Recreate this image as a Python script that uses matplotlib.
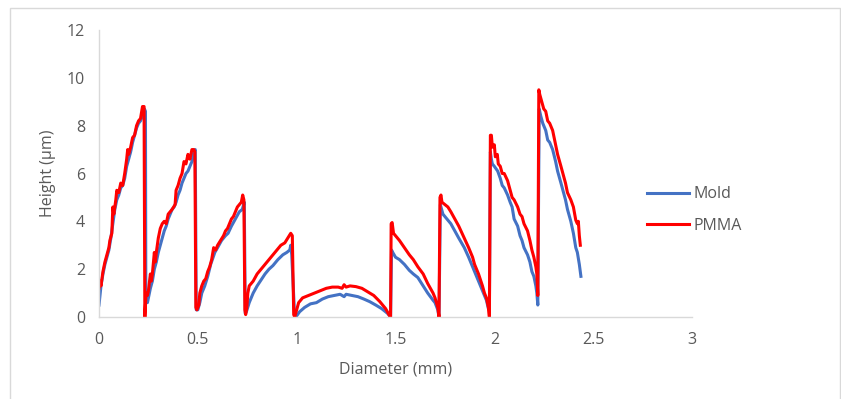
import matplotlib
matplotlib.use("Agg")
from matplotlib import pyplot as plt
from matplotlib.patches import Rectangle

plt.rcParams['font.family'] = ['Open Sans', 'DejaVu Sans']

# surface profile, diameter in mm, height in um
mold_x = [0.0, 0.01, 0.02, 0.03, 0.04, 0.05, 0.06, 0.07, 0.08, 0.09, 0.10, 0.11, 0.12, 0.13, 0.14, 0.15, 0.16, 0.17, 0.18, 0.19, 0.20, 0.21, 0.22, 0.23, 0.235, 0.237,
          0.245, 0.26, 0.27, 0.28, 0.29, 0.30, 0.31, 0.32, 0.33, 0.34, 0.35, 0.36, 0.37, 0.38, 0.39, 0.40, 0.41, 0.42, 0.43, 0.44, 0.45, 0.46, 0.47, 0.48, 0.487, 0.492,
          0.50, 0.51, 0.52, 0.535, 0.55, 0.565, 0.586, 0.60, 0.62, 0.64, 0.653, 0.67, 0.69, 0.71, 0.725, 0.735, 0.74,
          0.745, 0.76, 0.78, 0.80, 0.82, 0.84, 0.86, 0.88, 0.905, 0.93, 0.95, 0.965, 0.97, 0.975, 0.99,
          1.0, 1.015, 1.04, 1.07, 1.10, 1.13, 1.16, 1.19, 1.22, 1.24, 1.25, 1.28, 1.31, 1.34, 1.37, 1.40, 1.43, 1.46, 1.475,
          1.48, 1.486, 1.50, 1.52, 1.545, 1.57, 1.59, 1.613, 1.64, 1.663, 1.69, 1.70, 1.714, 1.72,
          1.727, 1.73, 1.74, 1.76, 1.78, 1.80, 1.82, 1.848, 1.87, 1.89, 1.90, 1.92, 1.94, 1.95, 1.96, 1.97, 1.975,
          1.98, 1.985, 1.99, 2.00, 2.017, 2.03, 2.04, 2.05, 2.067, 2.08, 2.09, 2.10, 2.118, 2.13, 2.14, 2.15, 2.168, 2.18, 2.19, 2.20, 2.21, 2.215, 2.22,
          2.227, 2.235, 2.245, 2.26, 2.27, 2.28, 2.295, 2.31, 2.32, 2.337, 2.35, 2.36, 2.37, 2.387, 2.40, 2.412, 2.42, 2.43, 2.438]
mold_y = [0.5, 1.3, 1.8, 2.2, 2.5, 2.8, 3.3, 3.9, 4.5, 4.9, 5.1, 5.4, 5.5, 5.8, 6.3, 6.6, 6.9, 7.3, 7.6, 7.9, 8.1, 8.2, 8.4, 8.7, 8.6, 0.6,
          0.6, 1.2, 1.5, 2.0, 2.3, 2.7, 3.0, 3.3, 3.6, 3.8, 4.1, 4.3, 4.5, 4.6, 4.8, 5.1, 5.3, 5.6, 5.8, 6.0, 6.1, 6.3, 6.5, 6.9, 7.0, 0.3,
          0.3, 0.6, 1.0, 1.3, 1.7, 2.2, 2.7, 2.9, 3.2, 3.4, 3.5, 3.8, 4.1, 4.4, 4.5, 4.8, 0.15,
          0.2, 0.6, 1.0, 1.3, 1.55, 1.8, 2.0, 2.15, 2.4, 2.6, 2.7, 2.8, 3.0, 2.6, 0.0,
          0.05, 0.22, 0.4, 0.55, 0.6, 0.75, 0.85, 0.9, 0.95, 0.85, 0.95, 0.9, 0.85, 0.75, 0.64, 0.5, 0.35, 0.15, 0.0,
          2.8, 2.7, 2.5, 2.4, 2.2, 1.95, 1.8, 1.65, 1.3, 1.0, 0.7, 0.6, 0.3, 0.0,
          4.7, 4.6, 4.3, 4.1, 3.9, 3.6, 3.3, 2.9, 2.5, 2.1, 1.9, 1.5, 1.1, 0.9, 0.7, 0.35, 0.3,
          6.9, 6.6, 6.4, 6.3, 6.1, 5.8, 5.5, 5.4, 5.1, 4.8, 4.6, 4.1, 3.8, 3.4, 3.2, 2.9, 2.6, 2.3, 1.9, 1.7, 1.3, 1.0, 0.5,
          8.7, 8.4, 8.1, 7.8, 7.4, 7.3, 7.0, 6.5, 6.1, 5.6, 5.2, 4.9, 4.5, 4.0, 3.5, 2.9, 2.7, 2.2, 1.7]

pmma_x = [0.0, 0.005, 0.01, 0.02, 0.03, 0.04, 0.05, 0.055, 0.065, 0.07, 0.075, 0.085, 0.09, 0.10, 0.11, 0.12, 0.13, 0.14, 0.145, 0.15, 0.16, 0.17, 0.18, 0.19, 0.20, 0.21, 0.22, 0.228, 0.232,
          0.238, 0.245, 0.25, 0.26, 0.265, 0.27, 0.28, 0.285, 0.29, 0.30, 0.31, 0.32, 0.33, 0.34, 0.35, 0.36, 0.37, 0.385, 0.39, 0.40, 0.41, 0.42, 0.43, 0.44, 0.45, 0.46, 0.47, 0.48, 0.485, 0.49,
          0.495, 0.505, 0.51, 0.52, 0.53, 0.54, 0.55, 0.56, 0.57, 0.58, 0.59, 0.60, 0.615, 0.63, 0.64, 0.65, 0.66, 0.67, 0.68, 0.69, 0.70, 0.71, 0.72, 0.727, 0.733, 0.738,
          0.742, 0.748, 0.753, 0.76, 0.78, 0.80, 0.82, 0.84, 0.86, 0.88, 0.90, 0.92, 0.94, 0.955, 0.97, 0.978, 0.985,
          0.99, 1.0, 1.01, 1.03, 1.06, 1.09, 1.12, 1.15, 1.18, 1.21, 1.23, 1.24, 1.25, 1.27, 1.30, 1.33, 1.36, 1.39, 1.42, 1.45, 1.47, 1.475,
          1.478, 1.483, 1.49, 1.50, 1.52, 1.545, 1.57, 1.59, 1.613, 1.64, 1.663, 1.69, 1.70, 1.714, 1.72,
          1.725, 1.73, 1.735, 1.75, 1.765, 1.78, 1.80, 1.82, 1.848, 1.87, 1.89, 1.90, 1.92, 1.94, 1.95, 1.96, 1.97, 1.975,
          1.98, 1.985, 1.99, 2.00, 2.005, 2.015, 2.02, 2.03, 2.04, 2.05, 2.067, 2.08, 2.09, 2.10, 2.118, 2.13, 2.14, 2.15, 2.168, 2.18, 2.19, 2.20, 2.21, 2.215, 2.22,
          2.225, 2.23, 2.24, 2.25, 2.26, 2.27, 2.28, 2.295, 2.31, 2.32, 2.337, 2.35, 2.36, 2.37, 2.387, 2.40, 2.412, 2.42, 2.425, 2.43, 2.435]
pmma_y = [1.2, 1.5, 1.3, 1.9, 2.3, 2.6, 2.9, 3.2, 3.5, 4.6, 4.3, 4.9, 5.3, 5.2, 5.6, 5.5, 6.0, 6.6, 7.0, 6.8, 7.1, 7.5, 7.6, 8.0, 8.2, 8.3, 8.8, 8.8, 0.0,
          1.0, 0.9, 1.1, 1.8, 1.5, 1.8, 2.7, 2.3, 2.7, 3.3, 3.7, 3.9, 4.0, 3.9, 4.3, 4.4, 4.5, 4.7, 5.3, 5.5, 5.8, 6.0, 6.5, 6.4, 6.8, 6.6, 7.0, 7.0, 6.9, 0.4,
          0.3, 0.5, 1.0, 1.3, 1.5, 1.6, 1.9, 2.1, 2.4, 2.9, 2.8, 3.0, 3.2, 3.4, 3.6, 3.7, 3.9, 4.1, 4.2, 4.4, 4.6, 4.7, 4.8, 5.1, 4.9, 0.3,
          0.1, 0.4, 1.0, 1.3, 1.5, 1.8, 2.0, 2.2, 2.4, 2.6, 2.8, 3.0, 3.1, 3.3, 3.5, 3.4, 0.1,
          0.0, 0.3, 0.6, 0.8, 0.9, 1.0, 1.1, 1.2, 1.25, 1.25, 1.2, 1.35, 1.25, 1.3, 1.27, 1.2, 1.05, 0.9, 0.65, 0.35, 0.05, 0.0,
          3.9, 3.95, 3.5, 3.4, 3.2, 2.9, 2.6, 2.4, 2.1, 1.8, 1.4, 1.0, 0.8, 0.4, 0.0,
          5.0, 5.1, 4.8, 4.7, 4.6, 4.4, 4.1, 3.8, 3.3, 2.9, 2.5, 2.2, 1.8, 1.3, 1.0, 0.8, 0.4, 0.0,
          7.6, 7.6, 7.1, 7.2, 6.7, 6.8, 6.4, 6.3, 6.0, 6.0, 5.7, 5.3, 5.0, 4.9, 4.6, 4.3, 4.2, 3.9, 3.6, 3.2, 2.8, 2.5, 2.1, 1.8, 0.9,
          9.5, 9.3, 9.0, 8.7, 8.6, 8.2, 8.1, 7.8, 7.2, 6.8, 6.3, 5.9, 5.6, 5.2, 4.9, 4.6, 4.05, 3.9, 4.0, 3.4, 3.0]

series_names = ["Mold", "PMMA"]
series_colors = ["#4472C4", "#FF0000"]

fig = plt.figure(figsize=(8.41, 3.99), dpi=100)
ax = fig.add_axes([99 / 841, 82 / 399, 593 / 841, 287 / 399])

# chart area border like the spreadsheet export
fig.patches.append(Rectangle((10 / 841, -0.05), 830 / 841, 1 - 8 / 399 + 0.05,
                             transform=fig.transFigure, fill=False,
                             edgecolor="#D9D9D9", linewidth=1.0))

ax.plot(mold_x, mold_y, color=series_colors[0], linewidth=2.2, label=series_names[0])
ax.plot(pmma_x, pmma_y, color=series_colors[1], linewidth=2.2, label=series_names[1])

ax.set_xlim(0, 3)
ax.set_ylim(0, 12)
ax.set_xticks([0, 0.5, 1, 1.5, 2, 2.5, 3])
ax.set_xticklabels(["0", "0.5", "1", "1.5", "2", "2.5", "3"])
ax.set_yticks(range(0, 13, 2))
ax.tick_params(length=0, labelsize=11.5, labelcolor="#595959", pad=11)
ax.tick_params(axis="y", pad=10)
for side in ["top", "right"]:
    ax.spines[side].set_visible(False)
for side in ["left", "bottom"]:
    ax.spines[side].set_color("#D9D9D9")
    ax.spines[side].set_linewidth(1.0)

fig.text(396 / 841, 1 - 370 / 399, "Diameter (mm)", ha="center", va="center",
         fontsize=11.5, color="#595959")
fig.text(48 / 841, 1 - 173 / 399, "Height (\u00b5m)", ha="center", va="center",
         rotation=90, fontsize=11.5, color="#595959")

leg = ax.legend(loc="center left", bbox_to_anchor=(548 / 593, 107 / 287), frameon=False,
                fontsize=11.5, labelcolor="#595959", handlelength=2.6, handletextpad=0.3,
                labelspacing=0.95, borderaxespad=0.0, borderpad=0.0)

fig.savefig("out.png", dpi=100)
